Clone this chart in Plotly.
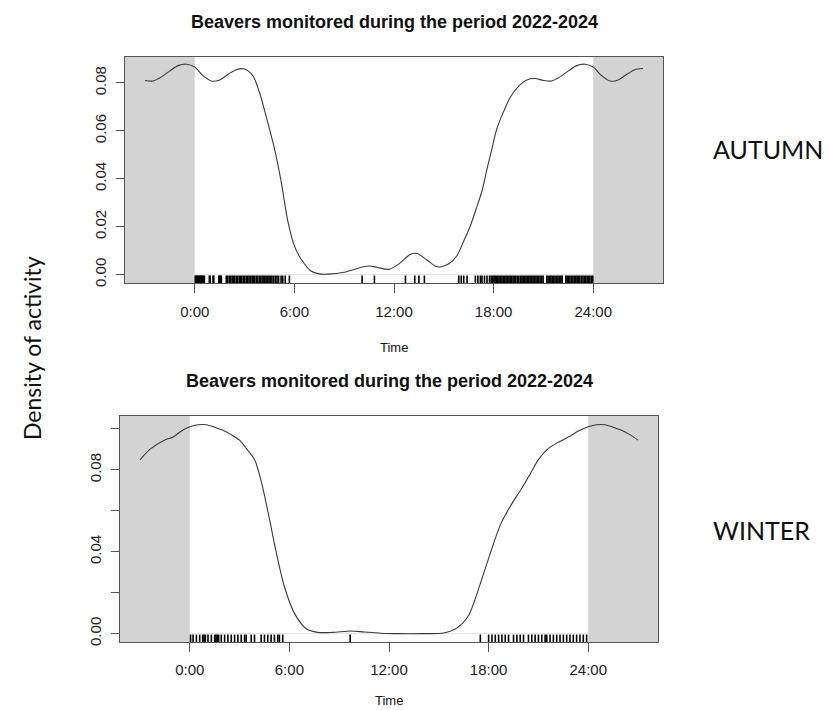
import plotly.graph_objects as go

# ---------------- data ----------------
TITLE = "Beavers monitored during the period 2022-2024"
x_tick_vals = [0, 6, 12, 18, 24]
x_tick_text = ["0:00", "6:00", "12:00", "18:00", "24:00"]

autumn_time = [-3.0, -2.5, -2.0, -1.5, -1.0, -0.5, 0.0, 0.5, 1.0, 1.5, 2.0, 2.5, 3.0, 3.5,
               3.9, 4.3, 4.8, 5.2, 5.6, 6.0, 6.4, 7.0, 7.5, 8.0, 9.0, 10.0, 10.5, 11.0,
               11.7, 12.3, 13.0, 13.4, 14.0, 14.5, 14.8, 15.3, 15.8, 16.2, 16.6, 17.0,
               17.3, 17.6, 17.9, 18.2, 18.6, 19.0, 19.5, 20.0, 20.5, 21.0, 21.5, 22.0,
               22.5, 23.0, 23.5, 24.0, 24.5, 25.0, 25.5, 26.0, 26.5, 27.0]
autumn_density = [0.0810, 0.0808, 0.0825, 0.0850, 0.0872, 0.0878, 0.0866, 0.0830, 0.0808,
                  0.0812, 0.0835, 0.0855, 0.0858, 0.0830, 0.0760, 0.0660, 0.0526, 0.0390,
                  0.0225, 0.0120, 0.0065, 0.0015, 0.0003, 0.0002, 0.0010, 0.0030, 0.0036,
                  0.0030, 0.0022, 0.0045, 0.0085, 0.0088, 0.0060, 0.0035, 0.0032, 0.0045,
                  0.0080, 0.0140, 0.0204, 0.0285, 0.0350, 0.0440, 0.0526, 0.0610, 0.0680,
                  0.0740, 0.0785, 0.0812, 0.0818, 0.0810, 0.0808, 0.0825, 0.0850, 0.0872,
                  0.0878, 0.0866, 0.0830, 0.0808, 0.0812, 0.0835, 0.0855, 0.0860]

winter_time = [-3.0, -2.4, -1.5, -1.0, -0.5, 0.0, 0.5, 1.0, 1.5, 2.0, 2.5, 3.0, 3.4, 3.9,
               4.3, 4.8, 5.2, 5.7, 6.3, 7.0, 7.7, 8.6, 9.7, 10.5, 11.5, 12.5, 14.0, 15.3,
               16.1, 16.8, 17.4, 18.05, 18.7, 19.4, 20.0, 20.5, 21.0, 21.6, 22.2, 22.8,
               23.4, 24.0, 24.5, 25.0, 25.5, 26.0, 26.5, 27.0]
winter_density = [0.0848, 0.0900, 0.0946, 0.0960, 0.0990, 0.1010, 0.1020, 0.1020, 0.1008,
                  0.0993, 0.0972, 0.0945, 0.0905, 0.0850, 0.0746, 0.0560, 0.0400, 0.0230,
                  0.0100, 0.0025, 0.0006, 0.0006, 0.0013, 0.0008, 0.0002, 0.0000, 0.0000,
                  0.0003, 0.0028, 0.0090, 0.0220, 0.0380, 0.0530, 0.0635, 0.0710, 0.0780,
                  0.0850, 0.0905, 0.0935, 0.0960, 0.0990, 0.1010, 0.1020, 0.1020, 0.1008,
                  0.0993, 0.0972, 0.0945]

autumn_rug = [0.03, 0.08, 0.12, 0.17, 0.22, 0.27, 0.32, 0.37, 0.42, 0.47, 0.52, 0.58,
              0.88, 0.93, 1.1, 1.15, 1.45, 1.5, 1.55, 1.6,
              1.9, 1.98, 2.08, 2.15, 2.25, 2.33, 2.4, 2.5, 2.58, 2.68, 2.75, 2.83, 2.93,
              3.0, 3.1, 3.18, 3.27, 3.35, 3.45, 3.52, 3.6, 3.7, 3.78, 3.88, 3.95, 4.05,
              4.12, 4.22, 4.3, 4.4, 4.48, 4.57, 4.65, 4.75, 4.85, 4.95, 5.05, 5.2, 5.3,
              5.45, 5.7,
              10.08, 10.82, 12.69, 13.25, 13.5, 13.83,
              15.9, 16.05, 16.2, 16.4, 16.9, 17.05, 17.2, 17.3, 17.45, 17.6, 17.75, 17.85,
              17.95, 18.03, 18.1, 18.18, 18.25, 18.33, 18.42, 18.5, 18.58, 18.67, 18.75,
              18.83, 18.92, 19.0, 19.08, 19.17, 19.25, 19.33, 19.42, 19.5, 19.6, 19.7,
              19.78, 19.87, 19.95, 20.03, 20.12, 20.2, 20.3, 20.38, 20.47, 20.55, 20.63,
              20.72, 20.8, 20.9, 20.98, 21.2, 21.28, 21.37, 21.45, 21.53, 21.62, 21.7,
              21.8, 21.88, 21.97, 22.05, 22.13, 22.35, 22.43, 22.52, 22.6, 22.7, 22.78,
              22.87, 22.95, 23.03, 23.12, 23.2, 23.3, 23.38, 23.47, 23.55, 23.63, 23.72,
              23.8, 23.9, 23.97]

winter_rug = [0.05, 0.2, 0.4, 0.6, 0.78, 0.86, 0.94, 1.1, 1.3, 1.5, 1.58, 1.66, 1.74,
              1.9, 2.1, 2.3, 2.5, 2.7, 2.9, 3.1, 3.3, 3.4, 3.7, 3.9, 4.3, 4.5, 4.7, 4.9,
              5.1, 5.3, 5.4, 5.6,
              9.66, 17.5,
              18.0, 18.2, 18.4, 18.6, 18.8, 19.0, 19.2, 19.5, 19.7, 19.9, 20.1, 20.4, 20.6,
              20.8, 21.0, 21.2, 21.4, 21.5, 21.7, 21.9, 22.1, 22.3, 22.5, 22.7, 22.9, 23.1,
              23.3, 23.5, 23.7, 23.9]

top_y_ticks = [0.00, 0.02, 0.04, 0.06, 0.08]
top_y_text = ["0.00", "0.02", "0.04", "0.06", "0.08"]
bot_y_ticks = [0.00, 0.02, 0.04, 0.06, 0.08, 0.10]
bot_y_text = ["0.00", "", "0.04", "", "0.08", ""]

# ---------------- layout geometry ----------------
# The page body has an 8px margin, so the figure sits at (8, 8) in the window.
OFF = 8
W, H = 822, 702
X_RANGE = [-4.2, 28.2]
TOP_YR = [-0.0035, 0.0908]
BOT_YR = [-0.0041, 0.1063]

def px(x):
    return (x - OFF) / W

def py(y):
    return 1 - (y - OFF) / H

FONT = "Liberation Sans, Arial, Helvetica, sans-serif"
OFFICE = "Lato, Open Sans, sans-serif"
BOX = "#555555"
CURVE = "#3a3a3a"
SHADE = "#d3d3d3"

fig = go.Figure()

def rug_xy(times, yr):
    xs, ys = [], []
    top = yr[0] + 0.033 * (yr[1] - yr[0])
    for t in times:
        xs += [t, t, None]
        ys += [yr[0], top, None]
    return xs, ys

for times, dens, rug, yr, xa, ya in [
    (autumn_time, autumn_density, autumn_rug, TOP_YR, "x", "y"),
    (winter_time, winter_density, winter_rug, BOT_YR, "x2", "y2"),
]:
    rx, ry = rug_xy(rug, yr)
    fig.add_trace(go.Scatter(x=[0, 24], y=[0, 0], mode="lines",
                             line=dict(color="#e2e2e2", width=1),
                             xaxis=xa, yaxis=ya, hoverinfo="skip"))
    fig.add_trace(go.Scatter(x=rx, y=ry, mode="lines",
                             line=dict(color="black", width=1.6),
                             xaxis=xa, yaxis=ya, hoverinfo="skip"))
    fig.add_trace(go.Scatter(x=times, y=dens, mode="lines",
                             line=dict(color=CURVE, width=1.1, shape="spline", smoothing=0.8),
                             xaxis=xa, yaxis=ya))

# shaded night regions
shapes = []
for xr, yr in [("x", "y domain"), ("x2", "y2 domain")]:
    shapes.append(dict(type="rect", xref=xr, yref=yr, x0=X_RANGE[0], x1=0, y0=0, y1=1,
                       fillcolor=SHADE, line=dict(width=0), layer="below"))
    shapes.append(dict(type="rect", xref=xr, yref=yr, x0=24, x1=X_RANGE[1], y0=0, y1=1,
                       fillcolor=SHADE, line=dict(width=0), layer="below"))

axis_common = dict(showgrid=False, zeroline=False, showline=True, mirror=True,
                   automargin=False,
                   linecolor=BOX, linewidth=1, ticks="outside", tickcolor=BOX,
                   tickfont=dict(family=FONT, size=15, color="#222"))

top_box = (125, 663, 57, 283)
bot_box = (120, 658, 416, 642)

fig.update_layout(
    template="none",
    width=W, height=H, margin=dict(l=0, r=0, t=0, b=0),
    paper_bgcolor="white", plot_bgcolor="white", showlegend=False,
    shapes=shapes,
    xaxis=dict(domain=[px(top_box[0]), px(top_box[1])], range=X_RANGE, anchor="y",
               tickvals=x_tick_vals, ticktext=x_tick_text, ticklen=9,
               ticklabelstandoff=6, **axis_common),
    yaxis=dict(domain=[py(top_box[3]), py(top_box[2])], range=TOP_YR, anchor="x",
               tickvals=top_y_ticks, ticktext=top_y_text, ticklen=8, tickangle=-90,
               ticklabelstandoff=4, **axis_common),
    xaxis2=dict(domain=[px(bot_box[0]), px(bot_box[1])], range=X_RANGE, anchor="y2",
                tickvals=x_tick_vals, ticktext=x_tick_text, ticklen=9,
                ticklabelstandoff=5, **axis_common),
    yaxis2=dict(domain=[py(bot_box[3]), py(bot_box[2])], range=BOT_YR, anchor="x2",
                tickvals=bot_y_ticks, ticktext=bot_y_text, ticklen=8, tickangle=-90,
                ticklabelstandoff=4, **axis_common),
)

def label(text, x, y, size, family, angle=0, anchor="center"):
    return dict(text=text, x=px(x), y=py(y), xref="paper", yref="paper",
                xanchor=anchor, yanchor="middle", showarrow=False, textangle=angle,
                font=dict(family=family, size=size, color="#111"))

ann = [
    label("<b>%s</b>" % TITLE, (top_box[0] + top_box[1]) / 2, 22, 18, FONT),
    label("<b>%s</b>" % TITLE, (bot_box[0] + bot_box[1]) / 2, 381, 18, FONT),
    label("Time", (top_box[0] + top_box[1]) / 2, 347, 13, FONT),
    label("Time", (bot_box[0] + bot_box[1]) / 2, 700, 13, FONT),
    label("Density of activity", 32, 348, 23, OFFICE, angle=-90),
    label("AUTUMN", 711, 149, 25, OFFICE, anchor="left"),
    label("WINTER", 711, 530, 25, OFFICE, anchor="left"),
]
fig.update_layout(annotations=ann)

fig.write_html("out.html")
